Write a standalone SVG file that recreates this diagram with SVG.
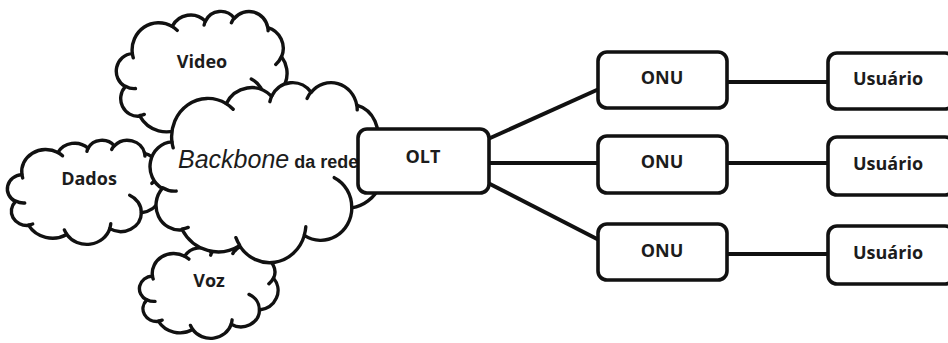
<svg xmlns="http://www.w3.org/2000/svg" width="948" height="343" viewBox="0 0 948 343">
  <style>
    .cloud { fill: #fff; stroke: #111; stroke-width: 3.4; stroke-linejoin: round; }
    .curl { fill: none; stroke: #111; stroke-width: 3.4; stroke-linecap: round; }
    .box { fill: #fff; stroke: #111; stroke-width: 3.6; }
    .link { fill: none; stroke: #111; stroke-width: 4; stroke-linecap: butt; }
    .lbl { font-family: "Open Sans", "Liberation Sans", sans-serif; font-weight: 700; font-size: 18px; fill: #1c1c1c; text-anchor: middle; }
    .bb { font-family: "Liberation Sans", Arial, sans-serif; fill: #1c1c1c; }
  </style>
  <defs>
    <!-- cloud outline in a 432 x 432 unit box; stroke keeps its width when scaled -->
    <path id="cloud-outline" vector-effect="non-scaling-stroke" d="M39 143.7A67.53 91.9 0 0 1 140.05 52.02A53.33 72.67 0 0 1 224.56 34.32A43.65 59.45 0 0 1 298.32 24.79A48.57 65.95 0 0 1 383.17 55.74A53.33 72.73 0 0 1 418.18 154.58A67.75 92.2 0 0 1 374.05 302.03A57.85 78.67 0 0 1 285.56 368.14A67.52 92.15 0 0 1 164.82 392.66A77.2 105.43 0 0 1 58.05 354.7A43.6 59.18 0 0 1 21.14 255.47A43.45 59.45 0 0 1 39 143.7Z"/>
    <!-- inner curls continuing each bump -->
    <path id="cloud-curls" vector-effect="non-scaling-stroke" d="M46.93 261.77A43.45 59.45 0 0 1 21.6 253.8M69.28 348.99A43.6 59.18 0 0 1 58.2 352.81M164.78 390.9A67.52 92.15 0 0 1 158.1 373.49M288.27 347.51A67.52 92.15 0 0 1 285.6 366.6M341.29 229.54A57.85 78.67 0 0 1 373.8 300.9M417.98 153.54A53.33 72.73 0 0 1 403.5 180.3M383.24 54.26A48.57 65.95 0 0 1 384.01 66.9M290.78 39.52A48.57 65.95 0 0 1 298.2 23.39M221.41 47.2A43.65 59.45 0 0 1 225 33.31M140 51.92A67.53 91.9 0 0 1 152.99 65.4M41.27 157.89A67.53 91.9 0 0 1 39 143.7"/>
  </defs>

  <g id="cloud-video">
    <g transform="translate(117 11) scale(0.3935 0.2963)">
      <use href="#cloud-outline" class="cloud"/>
      <use href="#cloud-curls" class="curl"/>
    </g>
    <text class="lbl" x="202" y="68">Video</text>
  </g>

  <g id="cloud-dados">
    <g transform="translate(8 140) scale(0.3565 0.2407)">
      <use href="#cloud-outline" class="cloud"/>
      <use href="#cloud-curls" class="curl"/>
    </g>
    <text class="lbl" x="89" y="185">Dados</text>
  </g>

  <g id="cloud-voz">
    <g transform="translate(140 245) scale(0.3194 0.2153)">
      <use href="#cloud-outline" class="cloud"/>
      <use href="#cloud-curls" class="curl"/>
    </g>
    <text class="lbl" x="209" y="287">Voz</text>
  </g>

  <g id="cloud-backbone">
    <g transform="translate(151 82) scale(0.537 0.4167)">
      <use href="#cloud-outline" class="cloud"/>
      <use href="#cloud-curls" class="curl"/>
    </g>
    <text class="bb" x="178" y="168"><tspan font-style="italic" font-size="25">Backbone</tspan><tspan font-size="18" font-weight="700" dx="5">da rede</tspan></text>
  </g>

  <g id="connectors">
    <line class="link" x1="488" y1="139" x2="599" y2="89"/>
    <line class="link" x1="488" y1="163" x2="599" y2="163"/>
    <line class="link" x1="488" y1="183" x2="599" y2="240"/>
    <line class="link" x1="727" y1="82" x2="828" y2="82"/>
    <line class="link" x1="727" y1="163" x2="828" y2="163"/>
    <line class="link" x1="727" y1="254" x2="828" y2="254"/>
  </g>

  <g id="olt">
    <rect class="box" x="358" y="129" width="131" height="64" rx="9"/>
    <text class="lbl" x="423" y="163">OLT</text>
  </g>

  <g id="onu-1">
    <rect class="box" x="598" y="52" width="129" height="56" rx="9"/>
    <text class="lbl" x="662" y="84">ONU</text>
  </g>
  <g id="onu-2">
    <rect class="box" x="598" y="136" width="129" height="57" rx="9"/>
    <text class="lbl" x="662" y="168">ONU</text>
  </g>
  <g id="onu-3">
    <rect class="box" x="598" y="224" width="129" height="56" rx="9"/>
    <text class="lbl" x="662" y="257">ONU</text>
  </g>

  <g id="usuario-1">
    <rect class="box" x="828" y="53" width="126" height="56" rx="9"/>
    <text class="lbl" x="888" y="85">Usuário</text>
  </g>
  <g id="usuario-2">
    <rect class="box" x="828" y="137" width="126" height="58" rx="9"/>
    <text class="lbl" x="888" y="170">Usuário</text>
  </g>
  <g id="usuario-3">
    <rect class="box" x="828" y="226" width="126" height="58" rx="9"/>
    <text class="lbl" x="888" y="259">Usuário</text>
  </g>
</svg>
